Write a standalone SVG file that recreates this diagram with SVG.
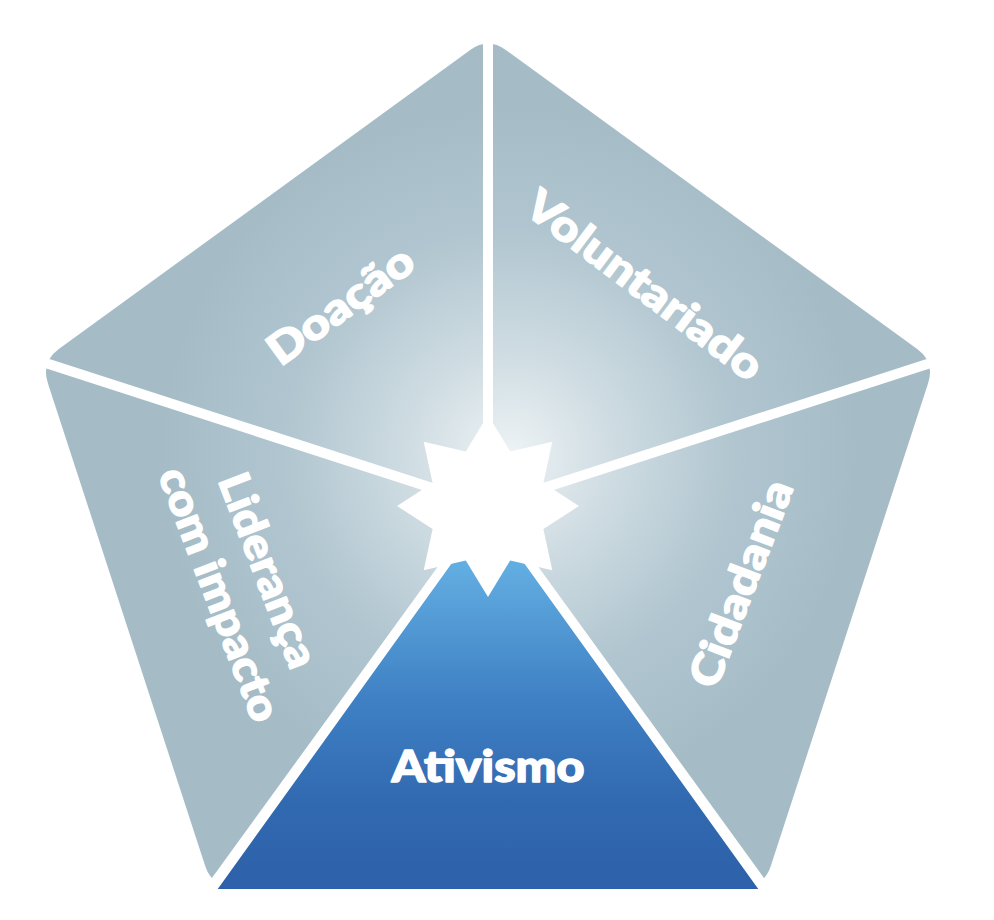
<svg xmlns="http://www.w3.org/2000/svg" width="994" height="920" viewBox="0 0 994 920">
  <defs>
    <radialGradient id="greyGrad" gradientUnits="userSpaceOnUse" cx="510" cy="455" r="350">
      <stop offset="0" stop-color="#eef3f5"/>
      <stop offset="0.28" stop-color="#d0dde3"/>
      <stop offset="0.65" stop-color="#b0c5cf"/>
      <stop offset="1" stop-color="#a5bcc7"/>
    </radialGradient>
    <linearGradient id="blueGrad" gradientUnits="userSpaceOnUse" x1="0" y1="545" x2="0" y2="890">
      <stop offset="0" stop-color="#67b4e6"/>
      <stop offset="0.45" stop-color="#3f80c4"/>
      <stop offset="0.75" stop-color="#3169b0"/>
      <stop offset="1" stop-color="#2d61aa"/>
    </linearGradient>
    <style>
      .lbl { font-family: Lato, "Liberation Sans", sans-serif; font-weight: 900; fill: #ffffff; stroke: #ffffff; stroke-width: 1.4; stroke-linejoin: round; }
      .div { stroke: #ffffff; stroke-width: 10; fill: none; }
    </style>
  </defs>

  <g id="pentagon">
    <path d="M 470.2,49.9 Q 488,37 505.8,49.9 L 917.2,349.1 Q 935,362 928.2,382.9 L 770.8,866.1 Q 764,887 742,887 L 234,887 Q 212,887 205.2,866.1 L 47.8,382.9 Q 41,362 58.8,349.1 Z" fill="url(#greyGrad)"/>
  </g>

  <g id="connectors">
    <line class="div" x1="488" y1="506" x2="488" y2="0"/>
    <line class="div" x1="488" y1="506" x2="980" y2="347"/>
    <line class="div" x1="488" y1="506" x2="-4" y2="347"/>
    <line class="div" x1="488" y1="506" x2="792" y2="925"/>
    <line class="div" x1="488" y1="506" x2="184" y2="925"/>
  </g>

  <g id="ativismo">
    <path d="M 488,506 L 766,893 L 210,893 Z" fill="url(#blueGrad)" stroke="#ffffff" stroke-width="8" stroke-linejoin="round"/>
    <text class="lbl" x="488" y="782" font-size="44" text-anchor="middle" textLength="193" lengthAdjust="spacingAndGlyphs">Ativismo</text>
  </g>

  <g id="doacao">
    <text class="lbl" transform="translate(341,306) rotate(-36)" x="0" y="14" font-size="43" text-anchor="middle" textLength="170" lengthAdjust="spacingAndGlyphs">Doação</text>
  </g>

  <g id="voluntariado">
    <text class="lbl" transform="translate(644,286) rotate(37)" x="0" y="14" font-size="43" text-anchor="middle" textLength="285" lengthAdjust="spacingAndGlyphs">Voluntariado</text>
  </g>

  <g id="cidadania">
    <text class="lbl" transform="translate(742,584) rotate(-69)" x="0" y="14" font-size="43" text-anchor="middle" textLength="218" lengthAdjust="spacingAndGlyphs">Cidadania</text>
  </g>

  <g id="lideranca">
    <text class="lbl" transform="translate(244,585) rotate(69)" font-size="43" text-anchor="middle">
      <tspan x="0" y="-13" textLength="205" lengthAdjust="spacingAndGlyphs">Liderança</tspan>
      <tspan x="0" y="41" textLength="268" lengthAdjust="spacingAndGlyphs">com impacto</tspan>
    </text>
  </g>

  <g id="star">
    <polygon points="488,415 510.2,451.6 552.3,441.7 543.4,483 579,506 543.4,529 552.3,570.3 510.2,560.4 488,597 465.8,560.4 423.7,570.3 432.6,529 397,506 432.6,483 423.7,441.7 465.8,451.6" fill="#ffffff"/>
  </g>
</svg>
